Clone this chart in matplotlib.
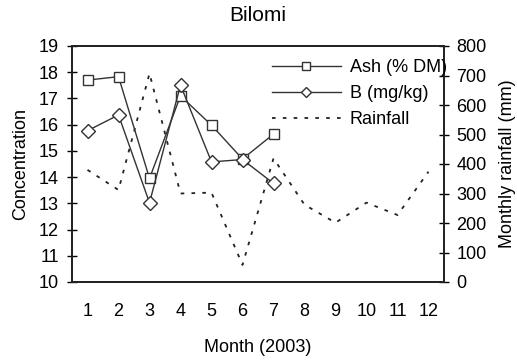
import matplotlib
matplotlib.use("Agg")
import matplotlib.pyplot as plt
from matplotlib.lines import Line2D

plt.rcParams['font.family'] = ['Liberation Sans', 'DejaVu Sans']

months = list(range(1, 13))
ash_months = [1, 2, 3, 4, 5, 6, 7]
ash = [17.7, 17.83, 13.95, 17.1, 15.98, 14.69, 15.64]
boron = [15.77, 16.37, 13.02, 17.51, 14.58, 14.67, 13.76]
rainfall = [380, 312, 707, 300, 303, 58, 419, 262, 201, 269, 227, 374]

W, H = 517, 364
fig = plt.figure(figsize=(W / 100, H / 100), dpi=100)
ax = fig.add_axes([72 / W, 1 - 282 / H, (444 - 72) / W, (282 - 46) / H])
ax2 = ax.twinx()

lc = '#333333'
ax.plot(ash_months, ash, color=lc, lw=1.0, marker='s', ms=7,
        mfc='white', mec=lc, mew=1.0, zorder=3)
ax.plot(ash_months, boron, color=lc, lw=1.0, marker='D', ms=7,
        mfc='white', mec=lc, mew=1.0, zorder=3)
ax2.plot(months, rainfall, color='#222222', lw=1.3, dashes=(2, 4))

ax.set_zorder(ax2.get_zorder() + 1)
ax.patch.set_visible(False)

ax.set_xlim(0.5, 12.5)
ax.set_ylim(10, 19)
ax.set_yticks(range(10, 20))
ax2.set_ylim(0, 800)
ax2.set_yticks(range(0, 801, 100))
ax.set_xticks(months)

fs = 13
ax.tick_params(axis='x', length=0, pad=15, labelsize=fs)
ax.tick_params(axis='y', direction='inout', length=7, width=1, labelsize=fs, pad=6)
ax2.tick_params(axis='y', direction='inout', length=7, width=1, labelsize=fs, pad=5.5)

for a in (ax, ax2):
    for s in a.spines.values():
        s.set_linewidth(1.3)
        s.set_color('#222222')

ax.set_ylabel('Concentration', fontsize=fs, labelpad=7)
ax2.set_ylabel('Monthly rainfall (mm)', fontsize=fs, labelpad=9)
ax.set_xlabel('Month (2003)', fontsize=fs, labelpad=14)
ax.set_title('Bilomi', fontsize=15, pad=18)

handles = [
    Line2D([], [], color=lc, lw=1.0, marker='s', ms=5.5, mfc='white', mec=lc),
    Line2D([], [], color=lc, lw=1.0, marker='D', ms=5.5, mfc='white', mec=lc),
    Line2D([], [], color='#222222', lw=1.3, dashes=(2, 4)),
]
ax.legend(handles, ['Ash (% DM)', 'B (mg/kg)', 'Rainfall'], loc='upper left',
          bbox_to_anchor=(272 / W, 1 - 59 / H), bbox_transform=fig.transFigure,
          frameon=False, fontsize=fs, handlelength=3.8, handletextpad=0.5,
          labelspacing=0.5, borderaxespad=0, borderpad=0)

fig.savefig('out.png', dpi=100)
